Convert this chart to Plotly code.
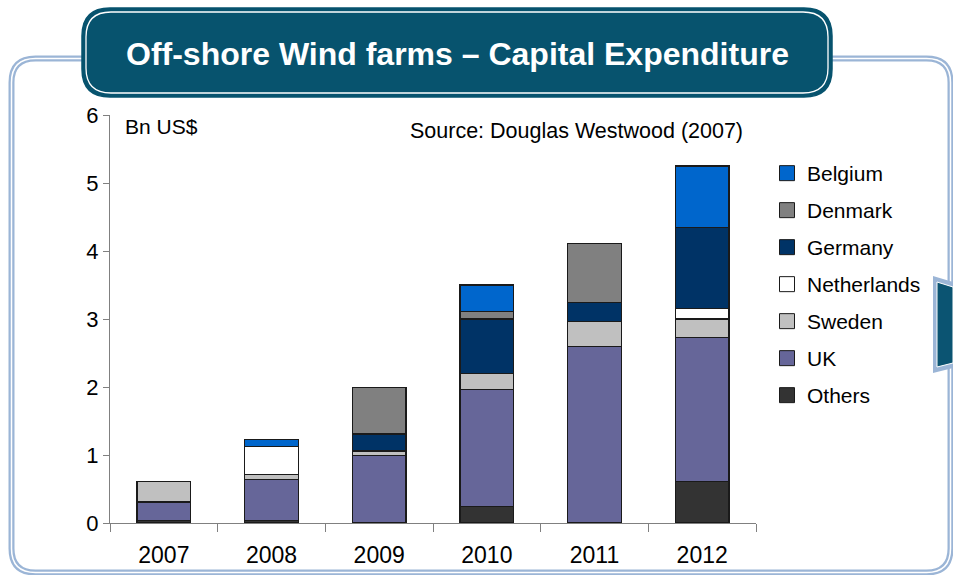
import plotly.graph_objects as go

# Capital expenditure on off-shore wind farms, Bn US$, by country (stacked bottom -> top)
years = ["2007", "2008", "2009", "2010", "2011", "2012"]
others = [0.04, 0.04, 0.0, 0.24, 0.0, 0.61]
uk = [0.27, 0.60, 0.99, 1.72, 2.60, 2.12]
sweden = [0.30, 0.07, 0.07, 0.24, 0.36, 0.27]
netherlands = [0.0, 0.41, 0.0, 0.0, 0.0, 0.15]
germany = [0.0, 0.0, 0.25, 0.80, 0.28, 1.20]
denmark = [0.0, 0.0, 0.68, 0.11, 0.87, 0.0]
belgium = [0.0, 0.11, 0.0, 0.39, 0.0, 0.90]

series = [
    ("Others", others, "#333333"),
    ("UK", uk, "#666699"),
    ("Sweden", sweden, "#C0C0C0"),
    ("Netherlands", netherlands, "#FFFFFF"),
    ("Germany", germany, "#003366"),
    ("Denmark", denmark, "#808080"),
    ("Belgium", belgium, "#0066CC"),
]

W, H = 953, 575
L, R, T, B = 110, 197, 115, 52
PW, PH = W - L - R, H - T - B
FONT = "Liberation Sans, Arial, sans-serif"
EDGE = "#1a1a1a"


def px(x):
    return (x - L) / PW


def py(y):
    return (H - B - y) / PH


fig = go.Figure()
n = len(series)
for i, (name, vals, color) in enumerate(series):
    fig.add_trace(go.Bar(
        name=name, x=years, y=vals, showlegend=False,
        marker=dict(color=color, line=dict(color=EDGE, width=1.3)),
    ))
    # square swatch for the legend (top entry = top of the stack)
    fig.add_trace(go.Scatter(
        name=name, x=[None], y=[None], mode="markers", legendrank=n - i,
        legendgroup=name,
        marker=dict(symbol="square", size=15, color=color, line=dict(color=EDGE, width=1)),
    ))


def rounded(x0, y0, x1, y1, r):
    return (f"M {px(x0 + r)} {py(y0)} L {px(x1 - r)} {py(y0)} "
            f"Q {px(x1)} {py(y0)} {px(x1)} {py(y0 + r)} L {px(x1)} {py(y1 - r)} "
            f"Q {px(x1)} {py(y1)} {px(x1 - r)} {py(y1)} L {px(x0 + r)} {py(y1)} "
            f"Q {px(x0)} {py(y1)} {px(x0)} {py(y1 - r)} L {px(x0)} {py(y0 + r)} "
            f"Q {px(x0)} {py(y0)} {px(x0 + r)} {py(y0)} Z")


shapes = []
# outer double-line rounded frame
fx0, fy0, fx1, fy1, fr = 11.5, 58.5, 950.5, 572.5, 24
shapes.append(dict(type="path", xref="paper", yref="paper", path=rounded(fx0, fy0, fx1, fy1, fr),
                   line=dict(color="#9BB5D6", width=6), layer="below"))
shapes.append(dict(type="path", xref="paper", yref="paper", path=rounded(fx0, fy0, fx1, fy1, fr),
                   line=dict(color="#FFFFFF", width=1.5), layer="below"))

# title banner
shapes.append(dict(type="path", xref="paper", yref="paper", path=rounded(82, 8, 832, 97, 28),
                   fillcolor="#07536E", line=dict(color="#07536E", width=1.5), layer="above"))
shapes.append(dict(type="path", xref="paper", yref="paper", path=rounded(86, 12, 828, 93, 25),
                   line=dict(color="#FFFFFF", width=1.3), layer="above"))

# tab on the right edge
shapes.append(dict(type="path", xref="paper", yref="paper",
                   path=f"M {px(933)} {py(276)} L {px(953)} {py(282)} L {px(953)} {py(368)} "
                        f"L {px(933)} {py(373)} Z",
                   fillcolor="#9BB5D6", line=dict(width=0), layer="above"))
shapes.append(dict(type="path", xref="paper", yref="paper",
                   path=f"M {px(937)} {py(282)} L {px(953)} {py(287)} L {px(953)} {py(363)} "
                        f"L {px(937)} {py(367)} Z",
                   fillcolor="#0B5472", line=dict(color="#FFFFFF", width=1), layer="above"))

annotations = [
    dict(text="<b>Off-shore Wind farms – Capital Expenditure</b>", xref="paper", yref="paper",
         x=px(457), y=py(54), xanchor="center", yanchor="middle", showarrow=False,
         font=dict(family=FONT, size=32, color="#FFFFFF")),
    dict(text="Bn US$", xref="paper", yref="paper", x=px(123), y=py(126),
         xanchor="left", yanchor="middle", showarrow=False,
         font=dict(family=FONT, size=21, color="#000000")),
    dict(text="Source: Douglas Westwood (2007)", xref="paper", yref="paper", x=px(745), y=py(131),
         xanchor="right", yanchor="middle", showarrow=False,
         font=dict(family=FONT, size=21.5, color="#000000")),
]

fig.update_layout(
    width=W, height=H,
    margin=dict(l=L, r=R, t=T, b=B),
    paper_bgcolor="#FFFFFF", plot_bgcolor="#FFFFFF",
    barmode="stack", bargap=0.5,
    font=dict(family=FONT, color="#000000"),
    shapes=shapes, annotations=annotations,
    legend=dict(x=px(767), y=py(153), xanchor="left", yanchor="top",
                traceorder="grouped", tracegroupgap=6.7,
                font=dict(family=FONT, size=21, color="#000000"),
                bgcolor="rgba(0,0,0,0)"),
    xaxis=dict(type="category", showline=True, linecolor="#808080", linewidth=1,
               ticks="outside", tickson="boundaries", ticklen=8, tickcolor="#808080",
               ticklabelstandoff=11, automargin=False,
               tickfont=dict(family=FONT, size=23, color="#000000"), showgrid=False),
    yaxis=dict(range=[0, 6], dtick=1, showline=True, linecolor="#808080", linewidth=1,
               ticks="outside", ticklen=6, tickcolor="#808080", showgrid=False, zeroline=False,
               automargin=False,
               tickfont=dict(family=FONT, size=22, color="#000000")),
)

fig.write_html("out.html")
